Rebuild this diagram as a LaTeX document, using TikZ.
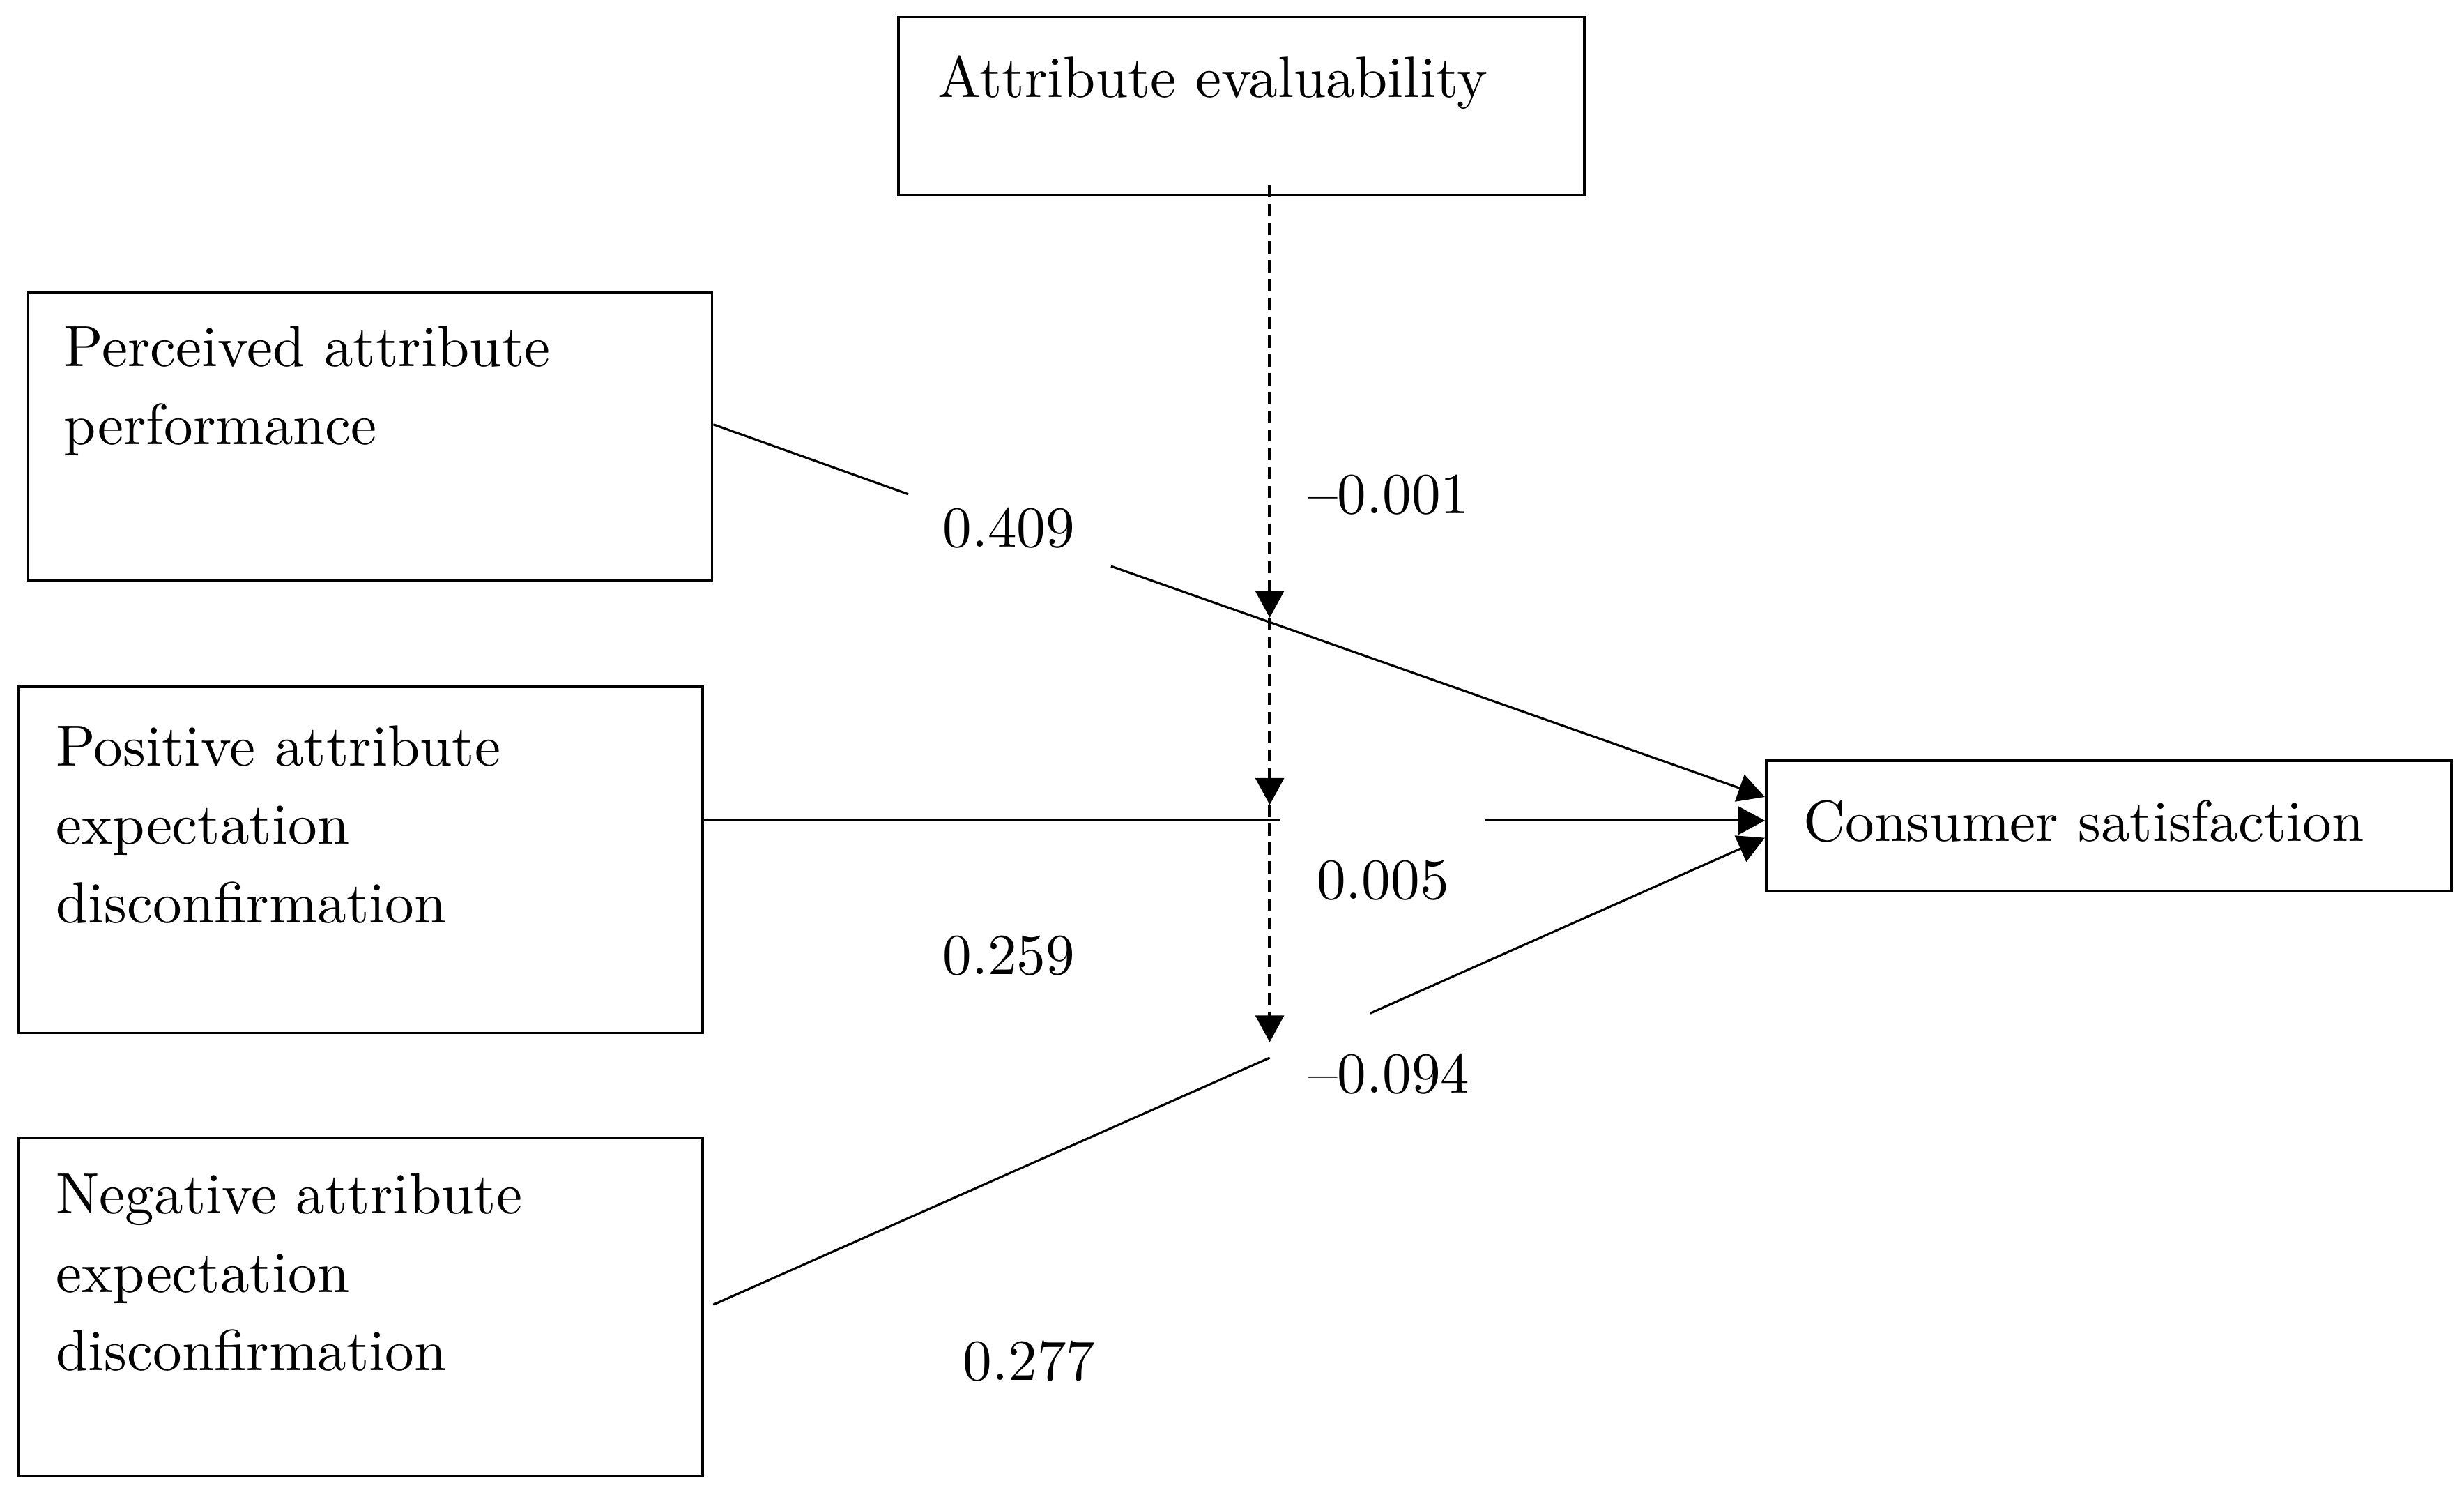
\documentclass[tikz,border=0pt]{standalone}
\usepackage{tikz}
\usetikzlibrary{positioning,arrows.meta}

\begin{document}
\begin{tikzpicture}[x=0.01cm,y=-0.01cm,
        square/.style={rectangle, draw, line width=0.45pt, inner sep=0pt},
        boxtext/.style={anchor=base west, align=left, inner sep=0pt, font=\fontsize{10.5}{14.2}\selectfont},
        coef/.style={inner sep=0pt, font=\fontsize{10.5}{14.2}\selectfont},
        link/.style={line width=0.4pt},
        arr/.style={-{Triangle[length=0.17cm,width=0.18cm]}},
        modline/.style={line width=0.55pt, dash pattern=on 2.2pt off 1.2pt}]
        \useasboundingbox (0,0) rectangle (1568,952);

        \node[square, minimum width=4.36cm, minimum height=1.13cm] (ae) at (790,67.5) {};
        \node[square, minimum width=4.35cm, minimum height=1.83cm] (pap) at (235.5,277.5) {};
        \node[square, minimum width=4.35cm, minimum height=2.20cm] (pos) at (229.5,547) {};
        \node[square, minimum width=4.35cm, minimum height=2.15cm] (neg) at (229.5,831.5) {};
        \node[square, minimum width=4.36cm, minimum height=0.83cm] (cs) at (1342,525.5) {};

        \node[boxtext] (aetext) at (596,62) {Attribute evaluability};
        \node[boxtext] (paptext) at (40,283) {Perceived attribute\\performance};
        \node[boxtext] (postext) at (35,587) {Positive attribute\\expectation\\disconfirmation};
        \node[boxtext] (negtext) at (35,872) {Negative attribute\\expectation\\disconfirmation};
        \node[boxtext] (cstext) at (1147,535) {Consumer satisfaction};

        \coordinate (papgapa) at (578,314.4);
        \coordinate (papgapb) at (707,360.2);
        \coordinate (posgapa) at (815,522);
        \coordinate (posgapb) at (945,522);
        \coordinate (neggapa) at (808,672.9);
        \coordinate (neggapb) at (872,644.6);
        \coordinate (modtop) at ([shift={(18,-7)}]ae.south);
        \coordinate (modpap) at (808,393);
        \coordinate (modpos) at (808,512);
        \coordinate (modneg) at (808,663);

        \draw[link] ([shift={(0,-7.5)}]pap.east) -- (papgapa);
        \draw[link,arr] (papgapb) -- ([shift={(0,-18.5)}]cs.west);
        \draw[link] ([shift={(0,-25)}]pos.east) -- (posgapa);
        \draw[link,arr] (posgapb) -- ([shift={(0,-3.5)}]cs.west);
        \draw[link] ([shift={(6,-1.5)}]neg.east) -- (neggapa);
        \draw[link,arr] (neggapb) -- ([shift={(0,7.5)}]cs.west);

        \draw[modline,arr] (modtop) -- (modpap);
        \draw[modline,arr] (modpap) -- (modpos);
        \draw[modline,arr] (modpos) -- (modneg);

        \node[coef] (c409) at (642,336) {0.409};
        \node[coef] (c001) at (884,315) {\textendash0.001};
        \node[coef] (c005) at (880,560) {0.005};
        \node[coef] (c259) at (642,608) {0.259};
        \node[coef] (c094) at (884,683) {\textendash0.094};
        \node[coef] (c277) at (655,866) {0.277};
\end{tikzpicture}
\end{document}
